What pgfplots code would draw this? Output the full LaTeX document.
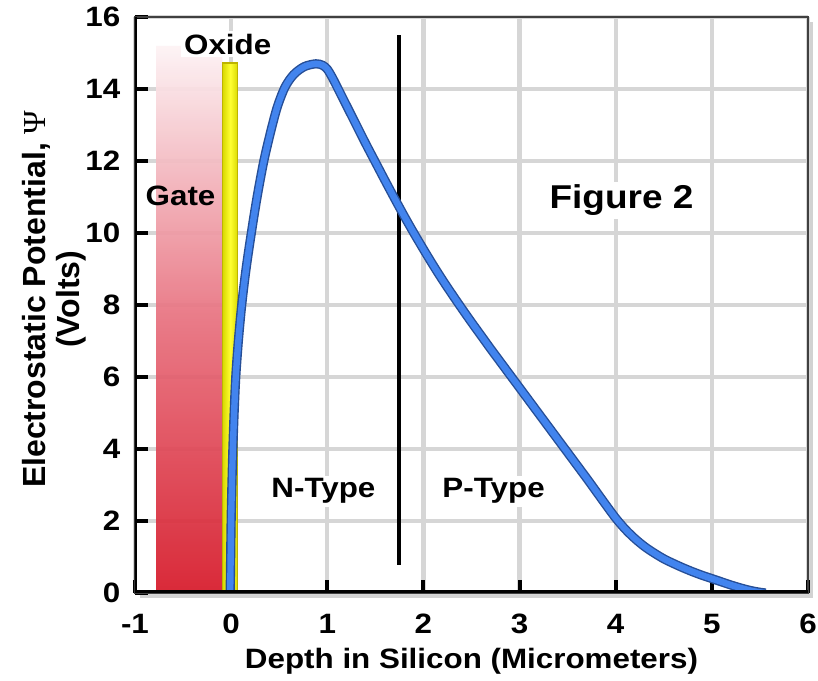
\documentclass[border=0pt]{standalone}
\usepackage{fontspec}
\setmainfont{Liberation Sans}
\newfontfamily\psifont{Liberation Serif}
\usepackage{pgfplots}
\usepackage{pgfplotstable}
\pgfplotsset{compat=1.18}
\usetikzlibrary{shadows}

\definecolor{gridgray}{RGB}{214,214,214}
\definecolor{gatered}{RGB}{214,24,40}
\definecolor{gatemid}{RGB}{232,112,126}
\definecolor{gatetop}{RGB}{253,243,245}
\definecolor{curveblue}{RGB}{66,132,238}
\definecolor{curveedge}{RGB}{38,78,150}
\definecolor{oxideedge}{RGB}{190,180,0}

% the reference text is a little stretched sideways
\newcommand{\wide}[1]{\scalebox{1.12}[1]{#1}}

% potential profile (depth in um, volts)
\pgfplotstableread{
x y
-0.01 0
-0.005 1
0.0 2
0.008 3
0.018 4
0.031 5
0.048 6
0.075 7
0.11 8
0.155 9
0.21 10
0.27 11
0.34 12
0.41 12.8
0.48 13.5
0.56 14.05
0.65 14.4
0.76 14.62
0.88 14.7
0.95 14.66
1.0 14.55
1.05 14.33
1.1 14.07
1.2 13.54
1.3 13.01
1.4 12.48
1.5 11.97
1.6 11.46
1.7 10.96
1.8 10.47
1.9 10.0
2.0 9.55
2.1 9.11
2.2 8.69
2.3 8.29
2.4 7.9
2.5 7.52
2.6 7.15
2.7 6.78
2.8 6.42
2.9 6.06
3.0 5.7
3.1 5.34
3.2 4.98
3.3 4.62
3.4 4.26
3.5 3.9
3.6 3.54
3.7 3.18
3.8 2.81
3.9 2.44
4.0 2.08
4.1 1.77
4.2 1.51
4.3 1.29
4.4 1.11
4.5 0.95
4.6 0.82
4.7 0.7
4.8 0.59
4.9 0.49
5.0 0.4
5.1 0.31
5.2 0.22
5.3 0.14
5.4 0.07
5.5 0.02
5.56 0
}\potential

\begin{document}
\begin{tikzpicture}
\useasboundingbox (-67.5bp,-44bp) rectangle (341.5bp,296.5bp);
\begin{axis}[
    width=336.5bp, height=288bp, scale only axis,
    xmin=-1, xmax=6, ymin=0, ymax=16,
    xtick={-1,0,...,6},
    ytick={0,2,...,16},
    xticklabels={\wide{-1},\wide{0},\wide{1},\wide{2},\wide{3},\wide{4},\wide{5},\wide{6}},
    yticklabels={\wide{0},\wide{2},\wide{4},\wide{6},\wide{8},\wide{10},\wide{12},\wide{14},\wide{16}},
    xtick pos=bottom, ytick pos=left,
    tick align=inside,
    major tick length=6.5bp,
    tick style={black, line width=2bp},
    tick label style={font=\fontsize{14bp}{16bp}\selectfont\bfseries},
    xticklabel style={yshift=-7bp},
    yticklabel style={xshift=-3.8bp},
    grid=major,
    grid style={gridgray, line width=2.2bp},
    axis line style={black!75, line width=1bp},
    axis background/.style={fill=white, drop shadow={shadow xshift=2.5bp, shadow yshift=-2.5bp, fill=black!35}},
    xlabel={\wide{Depth in Silicon (Micrometers)}},
    every axis x label/.style={at={(rel axis cs:0.5,0)}, anchor=base, yshift=-37.5bp,
        font=\fontsize{14bp}{16bp}\selectfont\bfseries},
    ylabel={Electrostatic Potential, {\psifont\mdseries Ψ}\\(Volts)},
    every axis y label/.style={at={(rel axis cs:-0.1196,0.51)}, anchor=center, rotate=90,
        align=center, font=\fontsize{16bp}{17bp}\selectfont\bfseries},
]

% gate
\addplot[draw=none, bottom color=gatered, top color=gatetop, middle color=gatemid, fill opacity=0.92]
    coordinates {(-0.78,0) (-0.78,15.2) (-0.09,15.2) (-0.09,0)} \closedcycle;

% oxide
\addplot[draw=oxideedge, line width=0.6bp, left color=yellow!85!black, right color=yellow!85!black, middle color=yellow!80!white]
    coordinates {(-0.09,0) (-0.09,14.72) (0.07,14.72) (0.07,0)} \closedcycle;

% N/P junction
\addplot[black, line width=2bp] coordinates {(1.75,0.78) (1.75,15.5)};

% potential curve
\addplot[curveedge, line width=4.6bp, smooth] table[x=x, y=y] {\potential};
\addplot[curveblue, line width=3.2bp, smooth] table[x=x, y=y] {\potential};

\node[anchor=base, fill=white, inner sep=1.5bp, font=\fontsize{14bp}{16bp}\selectfont\bfseries]
    at (axis cs:-0.036,14.97) {\wide{Oxide}};
\node[anchor=base, inner sep=0pt, font=\fontsize{14bp}{16bp}\selectfont\bfseries]
    at (axis cs:-0.526,10.76) {\wide{Gate}};
\node[anchor=base, fill=white, inner sep=1.5bp, font=\fontsize{14bp}{16bp}\selectfont\bfseries]
    at (axis cs:0.96,2.64) {\wide{N-Type}};
\node[anchor=base, fill=white, inner sep=1.5bp, font=\fontsize{14bp}{16bp}\selectfont\bfseries]
    at (axis cs:2.73,2.64) {\wide{P-Type}};
\node[anchor=base, fill=white, inner sep=1.5bp, font=\fontsize{16.5bp}{18bp}\selectfont\bfseries]
    at (axis cs:4.06,10.67) {\wide{Figure 2}};

% heavy left and bottom frame
\draw[black, line width=2.5bp] (rel axis cs:0,1) -- (rel axis cs:0,0) -- (rel axis cs:1,0);
\end{axis}
\end{tikzpicture}
\end{document}
